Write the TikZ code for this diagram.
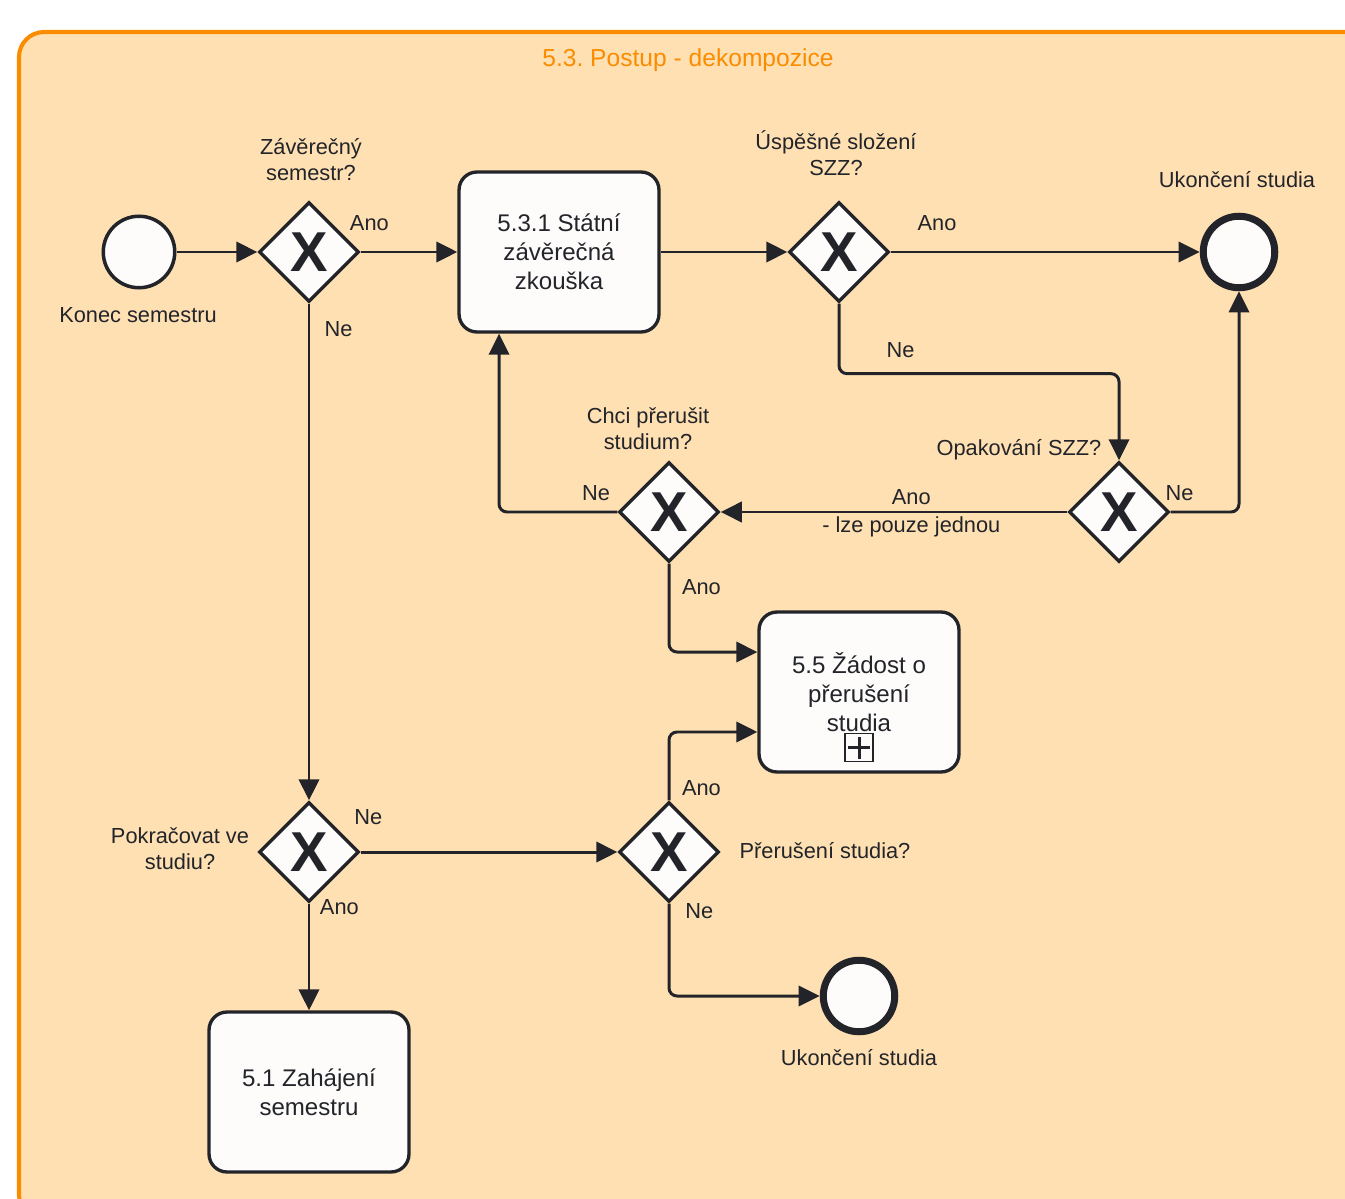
\documentclass[tikz,border=0pt]{standalone}
\usepackage{fontspec}
\setmainfont{Liberation Sans}
\usetikzlibrary{arrows.meta,shapes.geometric,positioning}

\definecolor{ink}{HTML}{22242A}
\definecolor{poolfill}{HTML}{FFE0B2}
\definecolor{pooldraw}{HTML}{FB8C00}
\definecolor{shapefill}{HTML}{FDFCFB}

\newcommand{\lblsize}{\fontsize{12.4}{14.7}\selectfont}
\newcommand{\tasksize}{\fontsize{13.7}{16.4}\selectfont}
\frenchspacing

\begin{document}
\begin{tikzpicture}[
    % one unit is one pixel, y going down
    x=0.02cm, y=-0.02cm,
    % type of arrow head
    >={Triangle[length=12pt, width=11.5pt]},
    pool/.style = {draw=pooldraw, fill=poolfill, line width=2.3pt, rounded corners=0.5cm},
    startevent/.style = {circle, draw=ink, fill=shapefill, line width=2pt, minimum size=1.43cm, inner sep=0},
    endevent/.style = {startevent, line width=4pt},
    gateway/.style = {diamond, draw=ink, fill=shapefill, line width=1.9pt, minimum width=2cm,
        minimum height=2cm, inner sep=0, text=ink, font=\fontsize{32}{32}\selectfont\bfseries},
    task/.style = {rectangle, rounded corners=0.36cm, draw=ink, fill=shapefill, line width=1.9pt,
        minimum width=4cm, minimum height=3.2cm, align=center, text=ink, font=\tasksize},
    submark/.style = {rectangle, draw=ink, line width=0.8pt, minimum size=0.56cm, inner sep=0},
    lbl/.style = {inner sep=2pt, align=center, text=ink, font=\lblsize},
    line/.style = {->, draw=ink, line width=1.7pt, rounded corners=0.16cm}
    ]

    \useasboundingbox (0,0) rectangle (1345,1199);
    \clip (0,0) rectangle (1345,1199);

    % pool
    \path[pool] (19,32) rectangle (1370,1220);
    \node (title) [lbl, text=pooldraw, font=\fontsize{14}{16}\selectfont] at (688,60) {5.3. Postup - dekompozice};

    \coordinate (S)  at (139,252);
    \coordinate (G1) at (309,252);
    \coordinate (T1) at (559,252);
    \coordinate (G2) at (839,252);
    \coordinate (E1) at (1239,252);

    \coordinate (G4) at (669,512);
    \coordinate (G3) at (1119,512);
    \coordinate (T2) at (859,692);

    \coordinate (G5) at (309,852);
    \coordinate (G6) at (669,852);
    \coordinate (E2) at (859,996);
    \coordinate (T3) at (309,1092);

    % nodes
    \node (start) [startevent] at (S)  {};
    \node (g1)    [gateway]    at (G1) {X};
    \node (t1)    [task]       at (T1) {5.3.1 Státní\\závěrečná\\zkouška};
    \node (g2)    [gateway]    at (G2) {X};
    \node (end1)  [endevent]   at (E1) {};
    \node (g3)    [gateway]    at (G3) {X};
    \node (g4)    [gateway]    at (G4) {X};
    \node (t2)    [task]       at (T2) {\raisebox{1.5pt}{\parbox{3.6cm}{\centering 5.5 Žádost o\\přerušení\\studia}}};
    \node (g5)    [gateway]    at (G5) {X};
    \node (g6)    [gateway]    at (G6) {X};
    \node (end2)  [endevent]   at (E2) {};
    \node (t3)    [task]       at (T3) {5.1 Zahájení\\semestru};

    % collapsed subprocess marker
    \node (t2mark) [submark] at ([yshift=0.52cm]t2.south) {};
    \draw[ink, line width=1.7pt] ([xshift=-0.22cm]t2mark.center) -- ([xshift=0.22cm]t2mark.center);
    \draw[ink, line width=1.7pt] ([yshift=-0.22cm]t2mark.center) -- ([yshift=0.22cm]t2mark.center);

    % labels
    \node [lbl] at (138,315)  {Konec semestru};
    \node [lbl] at (311,160)  {Závěrečný\\semestr?};
    \node [lbl] at (836,153)  {Úspěšné složení\\SZZ?};
    \node [lbl] at (1237,180) {Ukončení studia};
    \node [lbl] at (1019,450) {Opakování SZZ?};
    \node [lbl] at (648,429)  {Chci přerušit\\studium?};
    \node [lbl] at (180,849)  {Pokračovat ve\\studiu?};
    \node [lbl] at (825,851)  {Přerušení studia?};
    \node [lbl] at (859,1058) {Ukončení studia};

    % edges
    \path[line] (start) -- (g1);
    \path[line] (g1) -- node [lbl, above=9.4pt, pos=.09] {Ano} (t1);
    \path[line] (g1) -- node [lbl, right=6pt, pos=.052] {Ne} (g5);
    \path[line] (t1) -- (g2);
    \path[line] (g2) -- node [lbl, above=9.4pt, pos=.15] {Ano} (end1);
    \path[line] (g2.south) -- ++(0,70) -| node [lbl, above=6pt, pos=.11] {Ne} (g3.north);
    \path[line] (g3.east) -| node [lbl, above=3.8pt, pos=.065] {Ne} (end1.south);
    \path[line] (g3) -- node [lbl, above=1.5pt, pos=.45] {Ano}
                        node [lbl, below=0pt, pos=.45] {- lze pouze jednou} (g4);
    \path[line] (g4.west) -| node [lbl, above=3.8pt, pos=.09] {Ne} ([xshift=-1.2cm]t1.south);
    \path[line] (g4.south) |- node [lbl, right=4.6pt, pos=.13] {Ano} ([yshift=0.8cm]t2.west);

    \path[line] (g5) -- node [lbl, above=12.8pt, pos=.03] {Ne} (g6);
    \path[line] (g5) -- node [lbl, right=3.4pt, pos=.036] {Ano} (t3);
    \path[line] (g6.north) |- node [lbl, right=4.6pt, pos=.086] {Ano} ([yshift=-0.8cm]t2.west);
    \path[line] (g6.south) |- node [lbl, right=6.5pt, pos=.043] {Ne} (end2.west);
\end{tikzpicture}
\end{document}
